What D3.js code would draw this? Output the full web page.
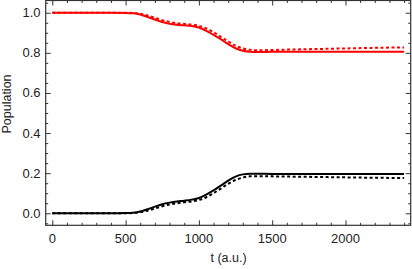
<!DOCTYPE html>
<html>
<head>
<meta charset="utf-8">
<script src="https://cdn.jsdelivr.net/npm/d3@7"></script>
<style>
  body { margin: 0; background: #fff; }
  svg { display: block; font-family: "Liberation Sans", Arial, sans-serif; }
</style>
</head>
<body>
<svg id="chart" width="412" height="269"></svg>
<script>
// time grid (a.u.)
var times = [0, 100, 200, 300, 400, 500, 550, 600, 650, 700, 750, 800, 850, 900, 950, 1000,
  1050, 1100, 1150, 1200, 1250, 1300, 1350, 1400, 1500, 1600, 1800, 2000, 2200, 2400];

var redSolid = [1.0, 1.0, 1.0, 1.0, 1.0, 0.999, 0.997, 0.991, 0.979, 0.966, 0.954, 0.945, 0.940, 0.937, 0.934, 0.926,
  0.910, 0.890, 0.868, 0.843, 0.823, 0.810, 0.805, 0.804, 0.805, 0.805, 0.805, 0.805, 0.805, 0.805];
var redDashed = [1.0, 1.0, 1.0, 1.0, 1.0, 1.0, 0.999, 0.995, 0.986, 0.975, 0.963, 0.954, 0.948, 0.944, 0.941, 0.935,
  0.922, 0.903, 0.880, 0.857, 0.836, 0.822, 0.815, 0.813, 0.814, 0.816, 0.819, 0.822, 0.825, 0.827];
var blackSolid = [0.0, 0.0, 0.0, 0.0, 0.0, 0.001, 0.003, 0.009, 0.020, 0.033, 0.045, 0.053, 0.059, 0.063, 0.068, 0.076,
  0.093, 0.114, 0.138, 0.163, 0.183, 0.194, 0.197, 0.197, 0.196, 0.196, 0.196, 0.196, 0.196, 0.196];
var blackDashed = [0.0, 0.0, 0.0, 0.0, 0.0, 0.0, 0.001, 0.005, 0.013, 0.024, 0.035, 0.044, 0.050, 0.055, 0.059, 0.066,
  0.080, 0.100, 0.123, 0.147, 0.166, 0.178, 0.184, 0.185, 0.184, 0.183, 0.181, 0.179, 0.177, 0.176];

var xTicks = [0, 500, 1000, 1500, 2000];
var yTicks = [0.0, 0.2, 0.4, 0.6, 0.8, 1.0];

function drawChart() {
  var svg = d3.select("#chart");
  var pLeft = 45.7, pRight = 410.7, pTop = 0.5, pBottom = 225.3;

  var x = d3.scaleLinear().domain([-45, 2445]).range([pLeft, pRight]);
  var y = d3.scaleLinear().domain([-0.06, 1.061]).range([pBottom, pTop]);

  var frameColor = "#333";

  // minor ticks
  var xMinor = d3.range(0, 2401, 100).filter(function(d) { return d % 500 != 0; });
  var yMinor = d3.range(-0.05, 1.06, 0.05).filter(function(d) {
    return Math.abs(Math.round(d * 5) - d * 5) > 0.01;
  });

  var series = [
    {values: blackSolid, color: "#000", dash: null},
    {values: blackDashed, color: "#000", dash: "3,2.5"},
    {values: redSolid, color: "#ff0000", dash: null},
    {values: redDashed, color: "#ff0000", dash: "3,2.5"}
  ];

  var line = d3.line()
    .x(function(d) { return x(d[0]); })
    .y(function(d) { return y(d[1]); })
    .curve(d3.curveMonotoneX);

  svg.append("clipPath").attr("id", "clip")
    .append("rect").attr("x", pLeft).attr("y", pTop)
    .attr("width", pRight - pLeft).attr("height", pBottom - pTop);

  series.forEach(function(s) {
    svg.append("path")
      .attr("clip-path", "url(#clip)")
      .attr("d", line(times.map(function(t, i) { return [t, s.values[i]]; })))
      .attr("fill", "none")
      .attr("stroke", s.color)
      .attr("stroke-width", 2)
      .attr("stroke-dasharray", s.dash);
  });

  // frame with inward ticks on all sides
  function tickAxis(axis, tr, values, size) {
    svg.append("g").attr("transform", tr)
      .call(axis.tickValues(values).tickSize(size).tickSizeOuter(0).tickFormat(""))
      .call(function(a) {
        a.select(".domain").remove();
        a.selectAll("line").attr("stroke", frameColor).attr("stroke-width", 1);
      });
  }
  tickAxis(d3.axisTop(x), "translate(0," + pBottom + ")", xTicks, 5);
  tickAxis(d3.axisTop(x), "translate(0," + pBottom + ")", xMinor, 2.5);
  tickAxis(d3.axisBottom(x), "translate(0," + pTop + ")", xTicks, 5);
  tickAxis(d3.axisBottom(x), "translate(0," + pTop + ")", xMinor, 2.5);
  tickAxis(d3.axisRight(y), "translate(" + pLeft + ",0)", yTicks, 5);
  tickAxis(d3.axisRight(y), "translate(" + pLeft + ",0)", yMinor, 2.5);
  tickAxis(d3.axisLeft(y), "translate(" + pRight + ",0)", yTicks, 5);
  tickAxis(d3.axisLeft(y), "translate(" + pRight + ",0)", yMinor, 2.5);

  svg.append("rect")
    .attr("x", pLeft).attr("y", pTop)
    .attr("width", pRight - pLeft).attr("height", pBottom - pTop)
    .attr("fill", "none")
    .attr("stroke", frameColor)
    .attr("stroke-width", 1.2);

  // tick labels
  svg.selectAll(".xl").data(xTicks).enter().append("text")
    .attr("x", function(d) { return x(d); })
    .attr("y", 243)
    .attr("text-anchor", "middle")
    .style("font-size", "13px")
    .style("fill", "#222")
    .text(function(d) { return d; });

  svg.selectAll(".yl").data(yTicks).enter().append("text")
    .attr("x", 40.5)
    .attr("y", function(d) { return y(d); })
    .attr("dy", "0.35em")
    .attr("text-anchor", "end")
    .style("font-size", "13px")
    .style("fill", "#222")
    .text(function(d) { return d.toFixed(1); });

  svg.append("text")
    .attr("x", 228.5).attr("y", 262)
    .attr("text-anchor", "middle")
    .style("font-size", "12.5px")
    .style("fill", "#222")
    .text("t (a.u.)");

  svg.append("text")
    .attr("transform", "translate(11,104) rotate(-90)")
    .attr("text-anchor", "middle")
    .style("font-size", "12.5px")
    .style("fill", "#222")
    .text("Population");
}

drawChart();
</script>
</body>
</html>
